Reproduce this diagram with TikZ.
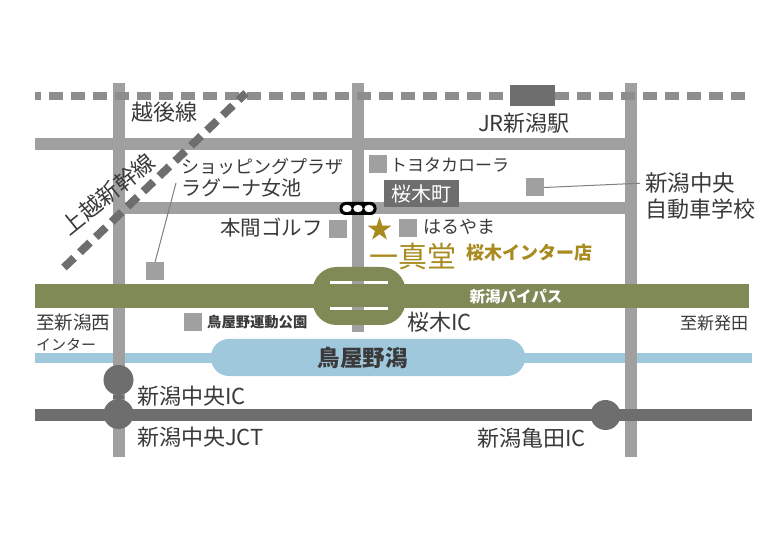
\documentclass[tikz,border=0pt]{standalone}
\usepackage{fontspec}
\setmainfont{Noto Sans CJK JP}
\usetikzlibrary{positioning,shapes.geometric}
\definecolor{roadgray}{HTML}{A0A0A0}
\definecolor{railgray}{HTML}{8E8E8E}
\definecolor{darkgray}{HTML}{6E6E6E}
\definecolor{bypassgreen}{HTML}{7F8A57}
\definecolor{lakeblue}{HTML}{A0C8DC}
\definecolor{inkgray}{HTML}{3A3A3A}
\definecolor{shopgold}{HTML}{A88A1E}
\tikzset{
  road/.style={draw=roadgray,line width=12pt},
  rail/.style={draw=railgray,line width=8pt,dash pattern=on 14pt off 8pt},
  spot/.style={fill=roadgray,minimum size=18pt,inner sep=0pt},
  ic/.style={circle,fill=darkgray,minimum size=30pt,inner sep=0pt},
  lbl/.style={font=\fontsize{#1}{#1}\selectfont,text=inkgray,inner sep=0pt,anchor=west},
  lead/.style={draw=gray,line width=1pt},
  slit/.style={white,line width=2.5pt},
}
\begin{document}
\begin{tikzpicture}[x=1pt,y=-1pt]
  \useasboundingbox[fill=white] (0,0) rectangle (784,534);

  \draw[draw=lakeblue,line width=10pt] (35,358) -- (752,358);
  \node[fill=lakeblue,minimum width=314pt,minimum height=37pt,rounded corners=18pt,inner sep=0pt] (lake) at (368,357.5) {};

  \draw[road] (118.5,83) -- (118.5,457);
  \draw[road] (358,83) -- (358,332);
  \draw[road] (630.5,83) -- (630.5,457);
  \draw[road] (35,144) -- (630,144);
  \draw[road] (118,208) -- (630,208);

  \draw[rail,dash phase=8pt] (35,96) -- (752,96);
  \draw[rail,draw=darkgray] (64,267.5) -- (246,93);
  \node[fill=darkgray,minimum width=45pt,minimum height=21pt,inner sep=0pt] (niigatast) at (532.5,95.5) {};

  \draw[draw=bypassgreen,line width=24pt] (35,296) -- (749,296);
  \node[fill=bypassgreen,minimum width=93pt,minimum height=58pt,rounded corners=24pt,inner sep=0pt] (sakuragiloop) at (359,296) {};
  \foreach \y in {282.5,308.5} {
    \draw[slit] (330,\y) -- (388,\y);
    \draw[draw=roadgray,line width=2.5pt] (352,\y) -- (364,\y);
  }

  \draw[draw=darkgray,line width=12pt] (35,415) -- (752,415);
  \node[ic] (chuoic) at (118.5,380) {};
  \node[ic] (chuojct) at (118.5,414) {};
  \node[ic] (kameda) at (605.5,415) {};
  \draw[draw=darkgray,line width=11pt] (chuoic) -- (chuojct);

  \node[spot] (sqlagoona) at (155,271.5) {};
  \node[spot] (sqgolf) at (338,229) {};
  \node[spot] (sqtoyota) at (378,164.5) {};
  \node[spot] (sqschool) at (535,187.5) {};
  \node[spot] (sqharuyama) at (408,228) {};
  \node[spot] (sqpark) at (192.5,322.5) {};

  \node[fill=darkgray,minimum width=75pt,minimum height=27pt,inner sep=0pt,text=white,font=\fontsize{20}{20}\selectfont] (sakuragicho) at (421.5,193.5) {桜木町};

  \node[fill=black,minimum width=37pt,minimum height=13pt,rounded corners=6pt,inner sep=0pt] (station) at (358,208.5) {};
  \foreach \i in {-11,0,11} {
    \draw[fill=white,draw=black,line width=1.2pt] (358+\i,208.5) ellipse (5.5pt and 4.5pt);
  }

  \node[star,star points=5,star point ratio=2.6,fill=shopgold,minimum size=25pt,inner sep=0pt] (shopstar) at (379.5,229.5) {};

  \node[lbl=22] (echigo) at (131,112) {越後線};
  \node[lbl=22] (jrst) at (478,123) {JR新潟駅};
  \node[lbl=22.5,anchor=center,rotate=39] (joetsu) at (108,194) {上越新幹線};
  \node[lbl=18] (plaza) at (181,167) {ショッピングプラザ};
  \node[lbl=20] (lagoona) at (181,188) {ラグーナ女池};
  \node[lbl=20.5] (golf) at (220,228) {本間ゴルフ};
  \node[lbl=17] (toyota) at (390,165) {トヨタカローラ};
  \node[lbl=22.5] (school) at (645,183) {新潟中央};
  \node[lbl=22,below=5pt of school.south west,anchor=north west] (schoolb) {自動車学校};
  \node[lbl=18] (haruyama) at (423,227) {はるやま};
  \node[lbl=29,text=shopgold] (shop) at (369,256) {一真堂};
  \node[lbl=18,text=shopgold,font=\fontsize{18}{18}\selectfont\bfseries,right=10pt of shop.east,yshift=3pt] (shopb) {桜木インター店};
  \node[lbl=15.5,text=white,font=\fontsize{15.5}{16}\selectfont\bfseries,anchor=center] (bypass) at (516,297) {新潟バイパス};
  \node[lbl=22] (sakuragiic) at (407,322) {桜木IC};
  \node[lbl=18.5] (tonishi) at (36,323) {至新潟西};
  \node[lbl=15] (tonishib) at (36,345) {インター};
  \node[lbl=14.3,font=\fontsize{14.3}{15}\selectfont\bfseries] (park) at (207,322) {鳥屋野運動公園};
  \node[lbl=22.5,font=\fontsize{22.5}{23}\selectfont\bfseries,anchor=center] (lakename) at (362.5,358) {鳥屋野潟};
  \node[lbl=22] (chuoiclbl) at (137,396) {新潟中央IC};
  \node[lbl=22] (chuojctlbl) at (137,437) {新潟中央JCT};
  \node[lbl=22] (kamedalbl) at (477,438) {新潟亀田IC};
  \node[lbl=17] (toshibata) at (680,323) {至新発田};

  \coordinate (lagoonatip) at (176,183);
  \draw[lead] (sqlagoona.north) -- (lagoonatip);
  \draw[lead,shorten >=5pt] (sqschool.east) -- (school.west);
\end{tikzpicture}
\end{document}
